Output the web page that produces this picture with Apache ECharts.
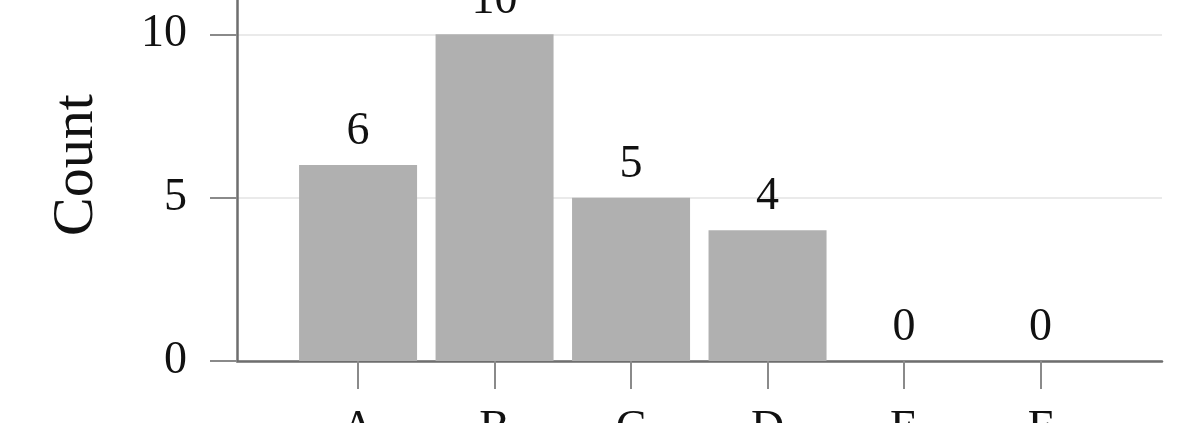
<!DOCTYPE html>
<html>
<head>
<meta charset="utf-8">
<script src="https://cdn.jsdelivr.net/npm/echarts@6/dist/echarts.min.js"></script>
<style>
html, body { margin: 0; padding: 0; background: #fff; }
#main { width: 1200px; height: 423px; }
</style>
</head>
<body>
<div id="main"></div>
<script>
// data
var categories = ['A', 'B', 'C', 'D', 'E', 'F'];
var counts = [6, 10, 5, 4, 0, 0];
var positions = [1, 2, 3, 4, 5, 6];
var yTicks = [0, 5, 10];

var serif = '"Liberation Serif", "DejaVu Serif", serif';
var ink = '#111111';
var axisGray = '#6e6e6e';
var tickGray = '#8a8a8a';

var barData = [];
for (var i = 0; i < counts.length; i++) {
	barData.push([positions[i], counts[i]]);
}

var dom = document.getElementById('main');
var myChart = echarts.init(dom);
var option = {
	animation: false,
	grid: {
		left: 237,
		right: 38,
		top: -31,
		bottom: 62,
		containLabel: false,
		outerBoundsMode: 'none'
	},
	xAxis: {
		type: 'value',
		min: 0.113,
		max: 6.89,
		axisLine: { show: true, onZero: false, lineStyle: { color: axisGray, width: 2.5 } },
		axisTick: {
			show: true,
			length: 28,
			customValues: positions,
			lineStyle: { color: tickGray, width: 2 }
		},
		axisLabel: {
			customValues: positions,
			margin: 46,
			color: ink,
			fontFamily: serif,
			fontSize: 46,
			formatter: function(v) {
				return categories[Math.round(v) - 1];
			}
		},
		splitLine: { show: false }
	},
	yAxis: {
		type: 'value',
		min: 0,
		max: 12,
		interval: 5,
		name: 'Count',
		nameLocation: 'middle',
		nameGap: 131,
		nameRotate: 90,
		nameTextStyle: { color: ink, fontFamily: serif, fontSize: 58 },
		axisLine: { show: true, lineStyle: { color: axisGray, width: 2.5 } },
		axisTick: { show: true, length: 27, lineStyle: { color: tickGray, width: 2 } },
		axisLabel: {
			margin: 50,
			color: ink,
			fontFamily: serif,
			fontSize: 46,
			customValues: yTicks
		},
		splitLine: { show: true, lineStyle: { color: '#e3e3e3', width: 1.5 } }
	},
	series: [
		{
			type: 'bar',
			data: barData,
			barWidth: 118,
			itemStyle: { color: '#b0b0b0' },
			label: {
				show: true,
				position: 'top',
				distance: 10,
				color: ink,
				fontFamily: serif,
				fontSize: 46,
				formatter: function(p) { return p.value[1]; }
			}
		}
	]
};
myChart.setOption(option);
</script>
</body>
</html>
